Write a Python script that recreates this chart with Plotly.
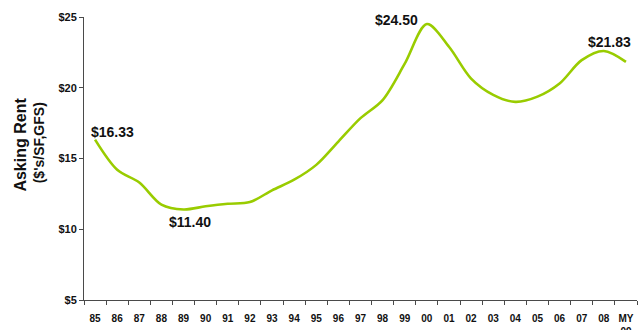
import plotly.graph_objects as go

# Annual asking rent, $/SF gross, 1985 through mid-year 2009
years = ["85", "86", "87", "88", "89", "90", "91", "92", "93", "94", "95", "96",
         "97", "98", "99", "00", "01", "02", "03", "04", "05", "06", "07", "08", "MY<br>09"]
rent = [16.33, 14.2, 13.3, 11.74, 11.40, 11.62, 11.8, 11.92, 12.75, 13.5, 14.55, 16.2,
        17.85, 19.13, 21.7, 24.50, 22.9, 20.65, 19.5, 19.0, 19.37, 20.3, 21.95, 22.6, 21.83]

y_ticks = [5, 10, 15, 20, 25]
y_tick_text = ["$5", "$10", "$15", "$20", "$25"]

# Callouts: (category index, text, x offset px, y offset px)
callouts = [
    (0, "$16.33", 17, 8),
    (4, "$11.40", 6, -13),
    (15, "$24.50", -30, 4),
    (24, "$21.83", -16, 20),
]

FONT = "Liberation Sans, Arial, sans-serif"
LINE_GREEN = "#99CC00"
AXIS_GREY = "#4a4a4a"

fig = go.Figure()
fig.add_trace(go.Scatter(
    x=years, y=rent, mode="lines",
    line=dict(color=LINE_GREEN, width=2.6, shape="spline", smoothing=0.9),
    hoverinfo="skip", showlegend=False,
))

for idx, txt, dx, dy in callouts:
    fig.add_annotation(
        x=idx, y=rent[idx], text="<b>" + txt + "</b>",
        xanchor="center", yanchor="middle",
        showarrow=False, xshift=dx, yshift=dy,
        font=dict(family=FONT, size=14, color="#111111"),
    )

# Two-line rotated axis title
fig.add_annotation(
    xref="paper", yref="paper", x=-0.114, y=0.549,
    xanchor="center", yanchor="middle",
    text="<b>Asking Rent</b>", textangle=-90, showarrow=False,
    font=dict(family=FONT, size=16, color="#111111"),
)
fig.add_annotation(
    xref="paper", yref="paper", x=-0.082, y=0.556,
    xanchor="center", yanchor="middle",
    text="<b>($'s/SF,GFS)</b>", textangle=-90, showarrow=False,
    font=dict(family=FONT, size=14, color="#111111"),
)

fig.update_layout(
    width=644, height=330,
    margin=dict(l=84, r=7, t=17, b=30, pad=0, autoexpand=False),
    paper_bgcolor="white", plot_bgcolor="white",
    font=dict(family=FONT, color="#111111"),
)
fig.update_xaxes(
    type="category", range=[-0.5, len(years) - 0.5], automargin=False,
    tickson="boundaries", ticks="outside", ticklen=4, tickcolor=AXIS_GREY,
    showline=True, linecolor=AXIS_GREY, linewidth=1, showgrid=False,
    tickangle=0, ticklabelstandoff=9,
    tickfont=dict(family=FONT, size=10, color="#111111"),
    tickprefix="<b>", ticksuffix="</b>",
)
fig.update_yaxes(
    range=[5, 25], tickvals=y_ticks, ticktext=["<b>" + t + "</b>" for t in y_tick_text],
    automargin=False,
    ticks="outside", ticklen=4, tickcolor=AXIS_GREY,
    showline=True, linecolor=AXIS_GREY, linewidth=1, showgrid=False, zeroline=False,
    tickfont=dict(family=FONT, size=11, color="#111111"),
)

fig.write_html("out.html")
